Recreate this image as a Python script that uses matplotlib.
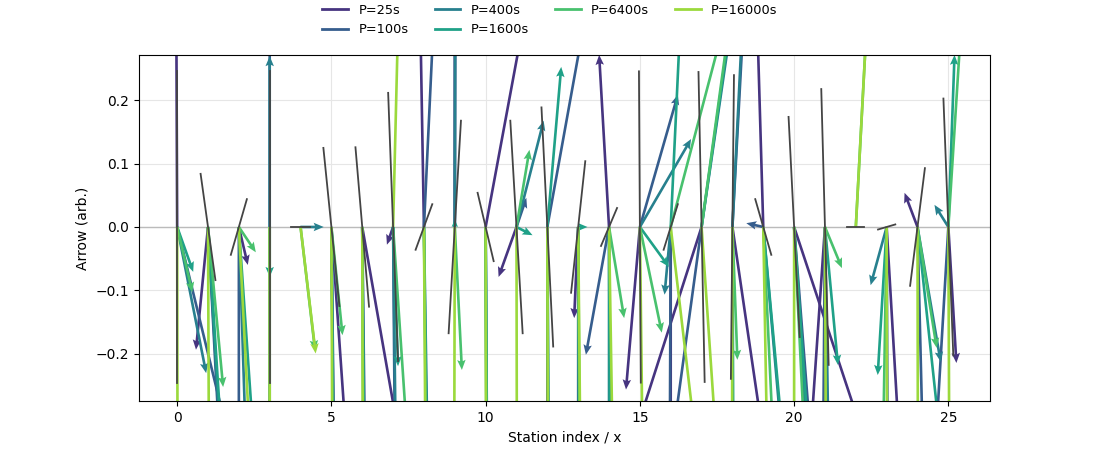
import numpy as np
import matplotlib
matplotlib.use("Agg")
import matplotlib.pyplot as plt
from matplotlib.lines import Line2D

stations = np.arange(26)
periods = ['P=25s', 'P=100s', 'P=400s', 'P=1600s', 'P=6400s', 'P=16000s']

# arrow components (x: station units, y: arb.) per period
u_p25 = [-0.05, -0.39, 0.29, 0.0, 0.05, 0.6, 1.8, -0.2, -0.18, 0.0, 1.9, -0.58, 0.0,
         -0.13, -0.32, -0.45, 0.0, -2.5, 1.5, -0.3, 3.4, -0.7, 0.02, 0.6, -0.42, 0.26]
v_p25 = [0.6, -0.194, -0.06, -0.5, 0.0, -0.42, -0.5, -0.028, 0.5, 0.6, 0.5, -0.079, -0.6,
         -0.144, 0.272, -0.257, -0.6, -0.38, -0.5, 0.5, -0.5, -0.5, 0.0, -0.5, 0.054, -0.215]

u_p100 = [1.6, 0.6, 0.0, 0.0, 0.1, 0.15, 0.15, 0.1, 0.48, 0.03, 0.05, 0.32, 1.85,
          0.0, -0.75, 1.23, -0.05, -1.4, 0.55, -0.55, 0.8, -0.1, 0.02, 0.05, 0.3, -0.6]
v_p100 = [-0.32, -0.55, -0.6, 0.6, 0.0, -0.6, -0.6, -0.6, 0.5, 0.6, -0.6, 0.046, 0.5,
          -0.6, -0.202, 0.209, -0.6, -0.5, 0.5, 0.006, -0.5, -0.6, 0.0, -0.6, -0.6, -0.5]

u_p400 = [0.94, 0.65, 0.4, 0.0, 0.75, 0.12, 0.1, 0.15, 0.2, 0.02, 0.08, 0.88, 0.08,
          0.02, 0.0, 1.66, -0.2, 1.5, 0.5, 0.9, 0.6, 0.2, 0.02, -0.52, 0.75, -0.45]
v_p400 = [-0.231, -0.55, -0.6, 0.27, 0.0, -0.6, -0.6, -0.6, -0.6, 0.6, -0.6, 0.168, -0.6,
          -0.6, -0.6, 0.139, -0.107, 0.5, 0.5, -0.5, -0.5, -0.6, 0.0, -0.092, -0.213, 0.035]

u_p1600 = [0.52, 0.72, 0.85, 0.0, 0.05, 0.1, 0.08, 0.16, 0.15, 0.0, 0.06, 0.52, 0.45,
           0.3, 0.05, 0.94, 0.48, 1.45, 0.05, 0.95, 0.7, 0.42, 0.02, -0.29, 1.1, 0.2]
v_p1600 = [-0.071, -0.55, -0.6, -0.079, 0.0, -0.6, -0.6, -0.22, -0.6, 0.012, -0.6, -0.013, 0.253,
           0.0, -0.6, -0.063, 0.5, 0.5, -0.6, -0.5, -0.5, -0.218, 0.0, -0.234, -0.5, 0.272]

u_p6400 = [0.49, 0.49, 0.55, 0.0, 0.47, 0.36, 0.06, 0.55, 0.12, 0.23, 0.04, 0.42, 0.05,
           0.08, 0.49, 0.71, 2.7, 1.4, 0.16, 0.48, 0.5, 0.55, 0.55, -0.2, 0.62, 0.65]
v_p6400 = [-0.103, -0.253, -0.04, -0.5, -0.195, -0.171, -0.6, -0.4, -0.6, -0.226, -0.6, 0.122, -0.6,
           -0.6, -0.144, -0.167, 0.5, 0.5, -0.21, -0.5, -0.5, -0.065, 0.5, -0.6, -0.191, 0.5]

u_p16000 = [0.02, 0.05, 0.63, 0.0, 0.49, 0.05, 0.03, 0.25, 0.08, -0.03, 0.02, 0.02, 0.03,
            0.12, 0.2, 0.15, 1.2, 0.7, -0.02, 0.18, 0.0, 0.05, 0.55, 0.02, 0.02, 0.05]
v_p16000 = [-0.6, -0.6, -0.6, -0.6, -0.2, -0.6, -0.6, 0.5, -0.6, -0.6, -0.6, -0.6, -0.6,
            -0.6, -0.6, -0.6, -0.5, -0.5, -0.6, -0.5, -0.6, -0.6, 0.5, -0.6, -0.6, -0.6]

# half-axis of the dark line through each station (upper end)
gray_dx = [0.0, -0.24, 0.26, 0.0, 0.3, -0.26, -0.22, -0.16, 0.27, 0.2, -0.26, -0.2, -0.19,
           0.23, 0.26, -0.03, 0.23, -0.1, 0.05, -0.26, -0.18, -0.12, 0.27, 0.28, 0.24, -0.16]
gray_dy = [0.247, 0.084, 0.044, 0.247, 0.0, 0.125, 0.126, 0.212, 0.036, 0.168, 0.054, 0.168, 0.189,
           0.104, 0.03, 0.246, 0.036, 0.245, 0.24, 0.044, 0.174, 0.218, 0.0, 0.004, 0.093, 0.203]

u_all = [u_p25, u_p100, u_p400, u_p1600, u_p6400, u_p16000]
v_all = [v_p25, v_p100, v_p400, v_p1600, v_p6400, v_p16000]
colors = plt.cm.viridis(np.linspace(0.15, 0.85, len(periods)))

fig = plt.figure(figsize=(11, 4.5), dpi=100)
ax = fig.add_axes([0.126, 0.109, 0.774, 0.769])

ax.axhline(0, color='#bbbbbb', lw=1, zorder=1)
ax.grid(True, color='#e6e6e6', lw=0.8, zorder=0)
ax.set_axisbelow(True)

zeros = np.zeros(len(stations))
for k in range(len(periods)):
    ax.quiver(stations, zeros, u_all[k], v_all[k], color=colors[k],
              angles='xy', scale_units='xy', scale=1,
              width=0.0031, headwidth=3.2, headlength=3.8, headaxislength=3.3,
              minlength=0, zorder=2 + k * 0.1)

for i in stations:
    ax.plot([i - gray_dx[i], i + gray_dx[i]], [-gray_dy[i], gray_dy[i]],
            color='#444444', lw=1.3, zorder=3)

ax.set_xlim(-1.25, 26.35)
ax.set_ylim(-0.275, 0.272)
ax.set_xticks([0, 5, 10, 15, 20, 25])
ax.set_yticks([-0.2, -0.1, 0.0, 0.1, 0.2])
ax.set_xlabel('Station index / x')
ax.set_ylabel('Arrow (arb.)')

handles = [Line2D([0], [0], color=colors[k], lw=2) for k in range(len(periods))]
fig.legend(handles, periods, loc='upper center', ncol=4, frameon=False,
           fontsize=9.3, bbox_to_anchor=(0.5, 1.017))

fig.savefig('out.png', dpi=100)
